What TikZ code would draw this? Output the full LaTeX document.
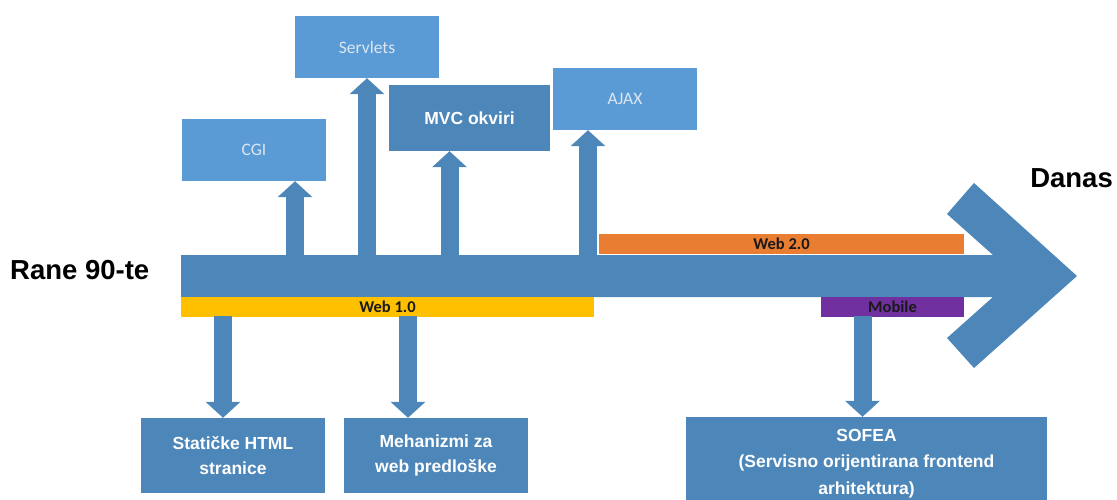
\documentclass[tikz,border=0pt]{standalone}
\usepackage{fontspec}
\setmainfont{Liberation Sans}
\newfontfamily\carlito{Carlito}
\usepackage{xcolor}
\usetikzlibrary{arrows.meta}
\definecolor{shaftblue}{HTML}{4D86B8}
\definecolor{lightblue}{HTML}{5B9BD5}
\definecolor{paletext}{HTML}{DCE6F1}
\definecolor{weborange}{HTML}{E97D31}
\definecolor{webyellow}{HTML}{FFC000}
\definecolor{mobpurple}{HTML}{7030A0}

\begin{document}
\begin{tikzpicture}[x=1pt,y=-1pt,
    lightbox/.style={fill=lightblue,inner sep=0pt,minimum width=144pt,minimum height=62pt,
      text=paletext,font=\carlito\fontsize{17.5}{20}\selectfont},
    darkbox/.style={fill=shaftblue,inner sep=0pt,text=white,align=center,
      font=\bfseries\fontsize{17.5}{25}\selectfont},
    era/.style={inner sep=0pt,minimum height=20pt,text=black!90,
      font=\carlito\bfseries\fontsize{16.5}{18}\selectfont},
    blockarrow/.style={draw=shaftblue,line width=18pt,-{Triangle[length=16pt,width=34pt]}},
    sidelabel/.style={inner sep=0pt,font=\bfseries\fontsize{27.5}{30}\selectfont}]
    \useasboundingbox (0,0) rectangle (1117,500);
    \clip (0,0) rectangle (1117,500);

    \fill[shaftblue] (181,255) -- (993,255) -- (947,214) -- (974,183) -- (1077,276)
      -- (974,368) -- (947,338) -- (993,297) -- (181,297) -- cycle;

    \node[sidelabel,anchor=west] (rane) at (10,270) {Rane 90-te};
    \node[sidelabel,anchor=east] (danas) at (1113,178) {Danas};

    \node[era,fill=webyellow,minimum width=413pt] (web1) at (387.5,307) {Web 1.0};
    \node[era,fill=weborange,minimum width=365pt] (web2) at (781.5,244) {Web 2.0};
    \node[era,fill=mobpurple,minimum width=143pt] (mobile) at (892.5,307) {Mobile};

    \node[lightbox] (cgi) at (254,150) {CGI};
    \node[lightbox] (servlets) at (367,47) {Servlets};
    \node[darkbox,minimum width=161pt,minimum height=66pt] (mvc) at (469.5,118) {MVC okviri};
    \node[lightbox] (ajax) at (625,99) {AJAX};

    \node[darkbox,minimum width=184pt,minimum height=75pt] (staticke) at (233,455.5) {Statičke HTML\\stranice};
    \node[darkbox,minimum width=184pt,minimum height=75pt] (mehanizmi) at (436,455.5) {Mehanizmi za\\web predloške};
    \node[darkbox,minimum width=361pt,minimum height=93pt,font=\bfseries\fontsize{17.5}{26.5}\selectfont]
      (sofea) at (866.5,463.5) {SOFEA\\(Servisno orijentirana frontend\\arhitektura)};

    \coordinate (cgifoot) at (295,256);
    \coordinate (servletsfoot) at (367,256);
    \coordinate (mvcfoot) at (449.5,256);
    \coordinate (ajaxfoot) at (588,256);
    \coordinate (statickefoot) at (223,316);
    \coordinate (mehanizmifoot) at (408,316);
    \coordinate (sofeafoot) at (862.5,316);

    \draw[blockarrow] (cgifoot) -- (cgifoot |- cgi.south);
    \draw[blockarrow] (servletsfoot) -- (servletsfoot |- servlets.south);
    \draw[blockarrow] (mvcfoot) -- (mvcfoot |- mvc.south);
    \draw[blockarrow] (ajaxfoot) -- (ajaxfoot |- ajax.south);
    \draw[blockarrow] (statickefoot) -- (statickefoot |- staticke.north);
    \draw[blockarrow] (mehanizmifoot) -- (mehanizmifoot |- mehanizmi.north);
    \draw[blockarrow] (sofeafoot) -- (sofeafoot |- sofea.north);
\end{tikzpicture}
\end{document}
